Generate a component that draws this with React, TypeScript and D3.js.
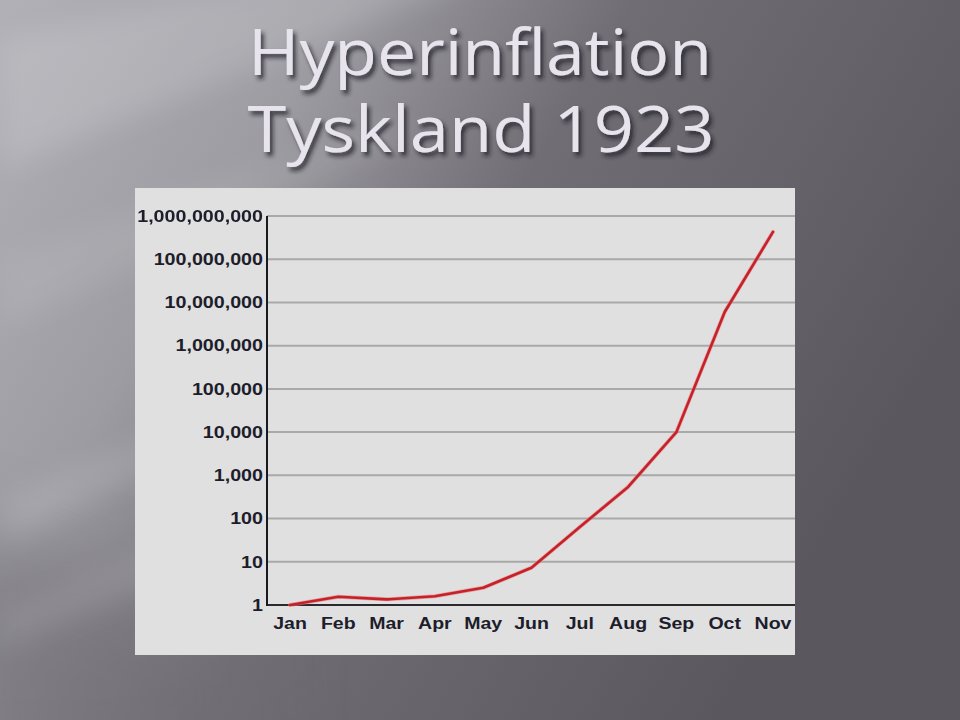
import React from "react";
import * as d3 from "d3";

// Price index, Germany 1923 (January = 1), log scale
const months = ["Jan", "Feb", "Mar", "Apr", "May", "Jun", "Jul", "Aug", "Sep", "Oct", "Nov"];
const priceIndex = [1, 1.55, 1.35, 1.6, 2.5, 7.3, 64, 540, 10000, 6000000, 430000000];
const yTicks = [1, 10, 100, 1000, 10000, 100000, 1000000, 10000000, 100000000, 1000000000];
const titleLines = ["Hyperinflation", "Tyskland 1923"];

const W = 960;
const H = 720;

// chart panel
const panel = { x: 135, y: 188, w: 660, h: 467 };
const plot = { left: 267, right: 795, top: 216, bottom: 605 };

export default function App() {
  const x = d3.scalePoint<string>().domain(months).range([290, 773]);
  const y = d3.scaleLog().domain([1, 1e9]).range([plot.bottom, plot.top]);
  const fmt = d3.format(",");

  const line = d3
    .line<number>()
    .x((_, i) => x(months[i]) as number)
    .y((v) => y(v))
    .curve(d3.curveLinear);
  const path = line(priceIndex) || "";

  const labelFont = "'Liberation Sans', Arial, sans-serif";

  return (
    <svg
      width={W}
      height={H}
      viewBox={`0 0 ${W} ${H}`}
      style={{ position: "absolute", left: 0, top: 0, display: "block" }}
    >
      <defs>
        <linearGradient id="bg" x1="0" y1="0" x2="1" y2="0.45">
          <stop offset="0" stopColor="#b2b1b7" />
          <stop offset="0.3" stopColor="#9d9ca2" />
          <stop offset="0.55" stopColor="#706e74" />
          <stop offset="1" stopColor="#5a585e" />
        </linearGradient>
        <filter id="soft" x="-20%" y="-20%" width="140%" height="140%">
          <feGaussianBlur stdDeviation="14" />
        </filter>
        <filter id="wide" x="-50%" y="-50%" width="200%" height="200%">
          <feGaussianBlur stdDeviation="40" />
        </filter>
        <filter id="titleShadow" x="-10%" y="-20%" width="120%" height="150%">
          <feDropShadow dx="3" dy="4" stdDeviation="2.2" floodColor="#1c1b20" floodOpacity="0.75" />
        </filter>
      </defs>

      {/* slide background */}
      <rect x={0} y={0} width={W} height={H} fill="url(#bg)" />
      <polygon points="-60,520 260,640 260,780 -60,780" fill="#6f6d73" opacity={0.55} filter="url(#wide)" />
      <g filter="url(#soft)">
        <polygon points="0,40 520,-80 620,-80 0,170" fill="#ffffff" opacity={0.14} />
        <polygon points="0,260 380,120 430,130 0,330" fill="#ffffff" opacity={0.08} />
        <polygon points="0,500 300,370 320,390 0,545" fill="#ffffff" opacity={0.12} />
        <polygon points="0,610 280,500 300,520 0,650" fill="#ffffff" opacity={0.1} />
      </g>

      {/* title */}
      <g
        filter="url(#titleShadow)"
        fill="#e8e4ee"
        fontFamily="'Open Sans', 'DejaVu Sans', sans-serif"
        fontSize={64}
        textAnchor="middle"
      >
        <text x={480} y={75} textLength={464} lengthAdjust="spacingAndGlyphs">
          {titleLines[0]}
        </text>
        <text x={481} y={152} textLength={467} lengthAdjust="spacingAndGlyphs">
          {titleLines[1]}
        </text>
      </g>

      {/* chart panel */}
      <rect x={panel.x} y={panel.y} width={panel.w} height={panel.h} fill="#e0e0e0" />

      {/* gridlines */}
      {yTicks.slice(1).map((t) => (
        <line
          key={`g${t}`}
          x1={plot.left}
          x2={plot.right}
          y1={y(t)}
          y2={y(t)}
          stroke="#a9a9a9"
          strokeWidth={2}
        />
      ))}

      {/* axes */}
      <line x1={plot.left} x2={plot.right} y1={plot.bottom} y2={plot.bottom} stroke="#2a2a2e" strokeWidth={2} />
      <line x1={plot.left} x2={plot.left} y1={plot.top} y2={plot.bottom + 1} stroke="#1a1a1e" strokeWidth={2} />

      {/* y tick labels */}
      <g fontFamily={labelFont} fontWeight="bold" fontSize={16} fill="#1d1d2b" textAnchor="end">
        {yTicks.map((t) => (
          <text key={`y${t}`} transform={`translate(263,${y(t)}) scale(1.23,1)`} dy="0.36em">
            {fmt(t)}
          </text>
        ))}
      </g>

      {/* x tick labels */}
      <g fontFamily={labelFont} fontWeight="bold" fontSize={17} fill="#1d1d2b" textAnchor="middle">
        {months.map((m) => (
          <text key={m} transform={`translate(${x(m)},629) scale(1.15,1)`}>
            {m}
          </text>
        ))}
      </g>

      {/* series */}
      <path d={path} fill="none" stroke="#f07a7a" strokeWidth={4} strokeLinejoin="round" strokeLinecap="round" opacity={0.6} />
      <path d={path} fill="none" stroke="#c4222a" strokeWidth={2.6} strokeLinejoin="round" strokeLinecap="round" />
    </svg>
  );
}
